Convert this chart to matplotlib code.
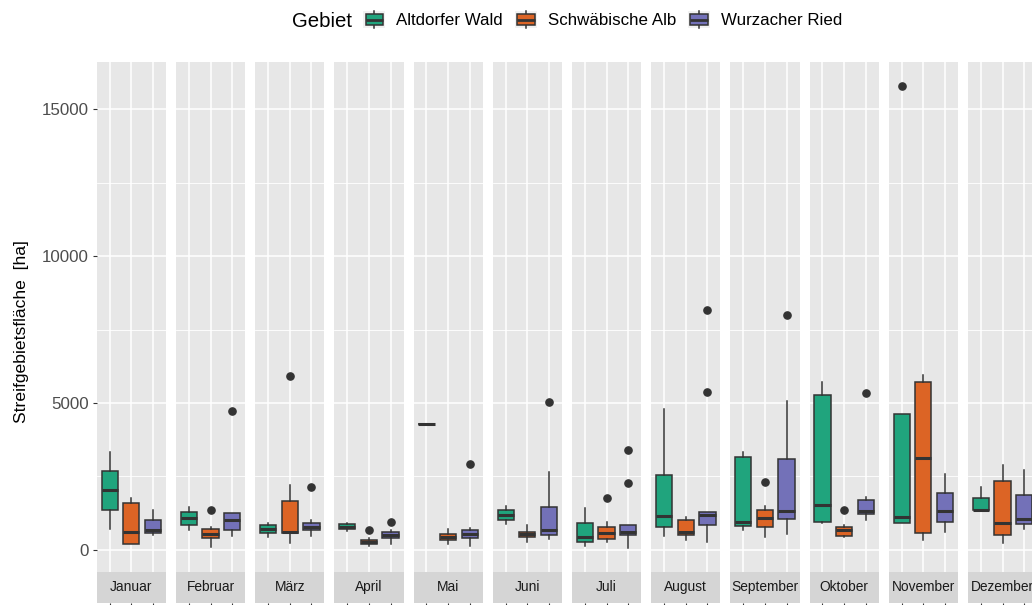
import matplotlib
matplotlib.use("Agg")
import matplotlib.pyplot as plt
from matplotlib.patches import Patch, Rectangle
from matplotlib.lines import Line2D
from matplotlib.legend_handler import HandlerBase

plt.rcParams["font.family"] = ["Liberation Sans", "DejaVu Sans"]

MONATE = ["Januar", "Februar", "März", "April", "Mai", "Juni", "Juli", "August",
          "September", "Oktober", "November", "Dezember"]
GEBIETE = ["Altdorfer Wald", "Schwäbische Alb", "Wurzacher Ried"]
FARBEN = ["#20A47D", "#DC6425", "#7371B8"]

# Boxplot-Kennwerte je Monat (ha): Median, Quartile, Whisker-Enden, Ausreisser
aw_med = [2020, 1090, 700, 790, 4290, 1190, 430, 1160, 950, 1510, 1110, 1340]
aw_q1 = [1350, 860, 560, 700, 4290, 1020, 250, 790, 820, 950, 930, 1340]
aw_q3 = [2690, 1280, 830, 870, 4290, 1360, 930, 2540, 3150, 5280, 4630, 1770]
aw_lo = [700, 670, 450, 640, 4290, 880, 140, 480, 660, 910, 930, 1340]
aw_hi = [3340, 1470, 930, 930, 4290, 1500, 1410, 4780, 3330, 5710, 4630, 2150]
aw_out = [[], [], [], [], [], [], [], [], [], [], [15780], []]

sa_med = [610, 540, 620, 270, 430, 540, 570, 620, 1070, 680, 3120, 920]
sa_q1 = [190, 400, 580, 200, 340, 450, 360, 500, 760, 480, 560, 500]
sa_q3 = [1580, 700, 1650, 340, 530, 620, 770, 1000, 1350, 790, 5700, 2360]
sa_lo = [190, 90, 230, 140, 190, 250, 250, 340, 450, 430, 340, 230]
sa_hi = [1770, 760, 2200, 390, 700, 840, 950, 1110, 1500, 860, 5940, 2900]
sa_out = [[], [1350], [5920], [690], [], [], [1780], [], [2310], [1360], [], []]

wr_med = [660, 1020, 790, 500, 530, 670, 620, 1190, 1330, 1330, 1330, 1040]
wr_q1 = [570, 680, 690, 410, 410, 500, 490, 850, 1040, 1210, 950, 870]
wr_q3 = [1020, 1250, 900, 600, 680, 1450, 840, 1290, 3080, 1680, 1950, 1880]
wr_lo = [490, 480, 480, 200, 140, 360, 50, 250, 540, 1000, 610, 700]
wr_hi = [1360, 1250, 1010, 660, 730, 2650, 840, 1290, 5080, 1790, 2590, 2720]
wr_out = [[], [4730], [2140], [950], [2910], [5020], [2290, 3400], [5390, 8160],
          [7990], [5340], [], []]

SERIEN = [(aw_med, aw_q1, aw_q3, aw_lo, aw_hi, aw_out),
          (sa_med, sa_q1, sa_q3, sa_lo, sa_hi, sa_out),
          (wr_med, wr_q1, wr_q3, wr_lo, wr_hi, wr_out)]

EDGE = "#333333"
W, H = 1032, 605
X0, PITCH, PW = 96.7, 79.2, 69.3          # panel layout in px
TOP, PBOT, SBOT = 61.7, 571.7, 602.7


class BoxKey(HandlerBase):
    """ggplot-like boxplot key glyph on a light grey tile."""
    def create_artists(self, legend, orig_handle, xdescent, ydescent, width, height, fontsize, trans):
        x0, y0 = -xdescent, -ydescent
        bg = Rectangle((x0, y0), width, height, facecolor="#F2F2F2", edgecolor="none", transform=trans)
        bx, bw = x0 + 0.1 * width, 0.8 * width
        by, bh = y0 + 0.17 * height, 0.66 * height
        box = Rectangle((bx, by), bw, bh, facecolor=orig_handle.get_facecolor(),
                        edgecolor=EDGE, linewidth=1.1, transform=trans)
        cx, cy = x0 + width / 2, y0 + height / 2
        med = Line2D([bx, bx + bw], [cy, cy], color=EDGE, lw=2.0, solid_capstyle="butt", transform=trans)
        lo = Line2D([cx, cx], [y0, by], color=EDGE, lw=1.1, transform=trans)
        hi = Line2D([cx, cx], [by + bh, y0 + height], color=EDGE, lw=1.1, transform=trans)
        return [bg, lo, hi, box, med]


fig = plt.figure(figsize=(W / 100, H / 100), dpi=100, facecolor="white")

for i, monat in enumerate(MONATE):
    left = (X0 + i * PITCH) / W
    ax = fig.add_axes([left, 1 - PBOT / H, PW / W, (PBOT - TOP) / H])
    sax = fig.add_axes([left, 1 - SBOT / H, PW / W, (SBOT - PBOT) / H])

    stats = []
    for med, q1, q3, lo, hi, out in SERIEN:
        stats.append(dict(med=med[i], q1=q1[i], q3=q3[i], whislo=lo[i], whishi=hi[i], fliers=out[i]))
    bp = ax.bxp(stats, positions=[1, 2, 3], widths=0.75, patch_artist=True, showcaps=False,
                boxprops=dict(edgecolor=EDGE, linewidth=1.1),
                whiskerprops=dict(color=EDGE, linewidth=1.1),
                medianprops=dict(color=EDGE, linewidth=2.2, solid_capstyle="butt"),
                flierprops=dict(marker="o", markerfacecolor=EDGE, markeredgecolor=EDGE, markersize=5.2))
    for patch, c in zip(bp["boxes"], FARBEN):
        patch.set_facecolor(c)

    ax.set_facecolor("#E7E7E7")
    ax.set_xlim(0.4, 3.6)
    ax.set_ylim(-745, 16620)
    ax.set_xticks([1, 2, 3])
    ax.set_yticks([0, 5000, 10000, 15000])
    ax.set_yticks([2500, 7500, 12500], minor=True)
    ax.set_axisbelow(True)
    ax.grid(which="major", color="white", lw=1.1)
    ax.grid(which="minor", axis="y", color="white", lw=0.6)
    ax.tick_params(axis="x", bottom=False, labelbottom=False)
    ax.tick_params(axis="y", which="minor", length=0)
    if i == 0:
        ax.tick_params(axis="y", which="major", length=3.0, width=0.8, color=EDGE,
                       labelsize=12.2, labelcolor="#4D4D4D", pad=2.6)
    else:
        ax.tick_params(axis="y", which="both", left=False, labelleft=False)
    for s in ax.spines.values():
        s.set_visible(False)

    # strip below the panel
    sax.set_facecolor("#D5D5D5")
    sax.set_xlim(0.4, 3.6)
    sax.set_ylim(0, 1)
    sax.set_yticks([])
    sax.set_xticks([1, 2, 3])
    sax.tick_params(axis="x", length=3.0, width=0.8, color=EDGE, labelbottom=False)
    for s in sax.spines.values():
        s.set_visible(False)
    sax.text(0.5, 0.5, monat, transform=sax.transAxes, ha="center", va="center",
             fontsize=9.9, color="#1A1A1A")

fig.text(22 / W, 1 - 332 / H, "Streifgebietsfläche  [ha]", rotation=90,
         ha="center", va="center", fontsize=12.6, color="black")

fig.text(351.7 / W, 1 - 26.7 / H, "Gebiet", ha="right", va="baseline", fontsize=14.7)
handles = [Patch(facecolor=c, label=g) for g, c in zip(GEBIETE, FARBEN)]
fs = 12.2 * 100 / 72
fig.legend(handles=handles, loc="center left", bbox_to_anchor=(363.3 / W, 1 - 19.5 / H),
           ncol=3, frameon=False, fontsize=12.2, handlelength=22 / fs, handleheight=21 / fs,
           handletextpad=11 / fs, columnspacing=12 / fs, borderpad=0, borderaxespad=0,
           handler_map={Patch: BoxKey()})

fig.savefig("out.png", dpi=100)
